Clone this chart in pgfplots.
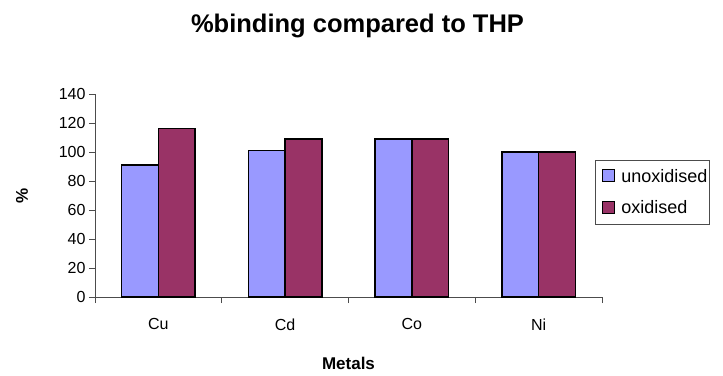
\documentclass[border=0pt]{standalone}
\usepackage{pgfplots}
\pgfplotsset{compat=1.18}
\usepackage{fontspec}
\setmainfont{Liberation Sans}
\definecolor{unox}{HTML}{9999FF}
\definecolor{ox}{HTML}{993366}

\begin{document}
\begin{tikzpicture}[x=1pt,y=1pt]
\useasboundingbox (0,0) rectangle (723,375);
\node[font=\bfseries\fontsize{25.5}{30}\selectfont, anchor=base] at (357.5,342) {\%binding compared to THP};
\begin{axis}[
    at={(95pt,78pt)}, anchor=south west,
    scale only axis,
    width=507pt, height=203pt,
    ybar=0pt, bar width=0.29,
    xmin=-0.5, xmax=3.5,
    ymin=0, ymax=140,
    ytick={0,20,...,140},
    xtick={0,1,2,3},
    xticklabels={Cu,Cd,Co,Ni},
    minor xtick={-0.5,0.5,1.5,2.5,3.5},
    axis x line*=bottom, axis y line*=left,
    axis line style={gray!60!black, line width=0.8pt},
    x axis line style={-}, y axis line style={-},
    tick align=outside,
    major x tick style={draw=none},
    minor tick length=6pt,
    major tick length=6pt,
    tick style={gray!60!black, line width=0.8pt},
    ticklabel style={font=\fontsize{16}{19}\selectfont},
    /pgf/number format/assume math mode=true,
    xticklabel style={yshift=-12pt},
    xlabel={Metals}, ylabel={\%},
    xlabel style={font=\bfseries\fontsize{17}{20}\selectfont, at={(axis description cs:0.5,0)}, anchor=center, yshift=-66pt},
    ylabel style={font=\bfseries\fontsize{17}{20}\selectfont, at={(axis description cs:0,0.5)}, anchor=center, yshift=73pt},
    legend style={at={(0.986,0.675)}, anchor=north west, draw=gray!60!black, line width=0.8pt,
        font=\fontsize{18}{21}\selectfont, row sep=13pt, inner xsep=0pt, inner ysep=7pt},
    legend cell align=left,
    legend image code/.code={
        \path[draw=none, fill=none] (0pt,0pt) -- (24pt,0pt);
        \draw[#1, line width=0.9pt] (7pt,-5pt) rectangle (19pt,7pt);},
]
\addplot[fill=unox, draw=black, line width=1.3pt] coordinates {(0,91) (1,101) (2,109) (3,100)};
\addplot[fill=ox, draw=black, line width=1.3pt] coordinates {(0,116) (1,109) (2,109) (3,100)};
\legend{unoxidised, oxidised}
\end{axis}
\end{tikzpicture}
\end{document}
